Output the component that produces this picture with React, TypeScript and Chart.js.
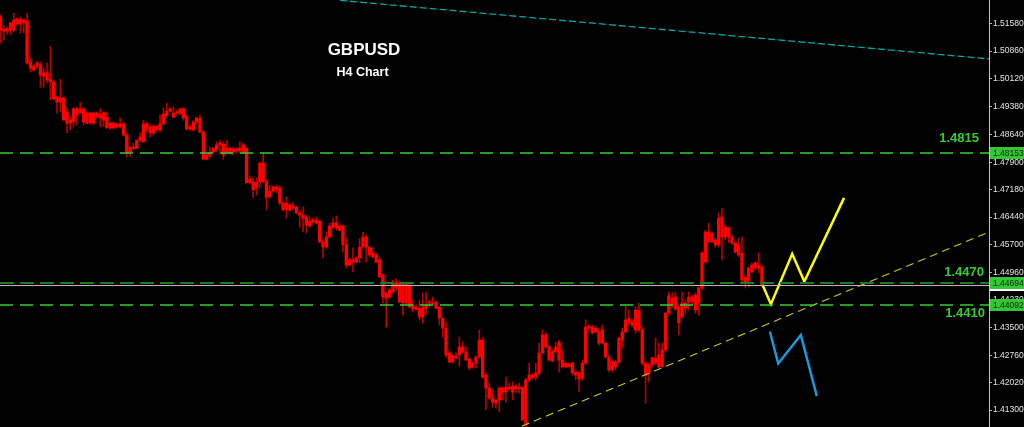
import React, { useEffect, useRef } from 'react';
import { Chart, registerables } from 'chart.js';

Chart.register(...registerables);

// ---- H4 candles (GBPUSD) ----
const opens = [
  1.5177, 1.5145, 1.5139, 1.5142, 1.5142, 1.5171, 1.5158, 1.5169, 1.5166, 1.5057,
  1.5035, 1.5046, 1.5049, 1.5019, 1.5028, 1.5011, 1.5004, 1.4964, 1.4950, 1.4961,
  1.4924, 1.4894, 1.4897, 1.4932, 1.4921, 1.4932, 1.4894, 1.4921, 1.4894, 1.4921,
  1.4908, 1.4921, 1.4910, 1.4881, 1.4894, 1.4884, 1.4892, 1.4892, 1.4862, 1.4817,
  1.4830, 1.4827, 1.4849, 1.4844, 1.4892, 1.4884, 1.4868, 1.4886, 1.4876, 1.4892,
  1.4916, 1.4926, 1.4921, 1.4921, 1.4921, 1.4932, 1.4910, 1.4878, 1.4876, 1.4897,
  1.4905, 1.4870, 1.4798, 1.4806, 1.4817, 1.4825, 1.4836, 1.4838, 1.4817, 1.4827,
  1.4817, 1.4825, 1.4820, 1.4836, 1.4827, 1.4735, 1.4737, 1.4722, 1.4737, 1.4788,
  1.4737, 1.4697, 1.4713, 1.4724, 1.4722, 1.4681, 1.4663, 1.4676, 1.4668, 1.4671,
  1.4655, 1.4649, 1.4644, 1.4620, 1.4631, 1.4636, 1.4633, 1.4578, 1.4564, 1.4591,
  1.4615, 1.4628, 1.4620, 1.4620, 1.4570, 1.4516, 1.4530, 1.4524, 1.4535, 1.4564,
  1.4591, 1.4564, 1.4548, 1.4543, 1.4530, 1.4490, 1.4428, 1.4431, 1.4444, 1.4471,
  1.4468, 1.4415, 1.4468, 1.4463, 1.4399, 1.4404, 1.4401, 1.4378, 1.4401, 1.4418,
  1.4415, 1.4418, 1.4404, 1.4375, 1.4348, 1.4282, 1.4258, 1.4274, 1.4277, 1.4298,
  1.4285, 1.4266, 1.4245, 1.4255, 1.4271, 1.4316, 1.4223, 1.4189, 1.4162, 1.4148,
  1.4157, 1.4189, 1.4178, 1.4191, 1.4178, 1.4194, 1.4186, 1.4189, 1.4090, 1.4210,
  1.4223, 1.4218, 1.4229, 1.4282, 1.4330, 1.4298, 1.4261, 1.4285, 1.4311, 1.4263,
  1.4245, 1.4253, 1.4255, 1.4231, 1.4229, 1.4215, 1.4255, 1.4348, 1.4351, 1.4338,
  1.4340, 1.4308, 1.4308, 1.4271, 1.4237, 1.4258, 1.4258, 1.4316, 1.4338, 1.4375,
  1.4364, 1.4343, 1.4396, 1.4343, 1.4255, 1.4229, 1.4250, 1.4269, 1.4245, 1.4245,
  1.4290, 1.4388, 1.4428, 1.4399, 1.4404, 1.4378, 1.4415, 1.4418, 1.4431, 1.4396,
  1.4415, 1.4455, 1.4524, 1.4604, 1.4578, 1.4583, 1.4570, 1.4644, 1.4591, 1.4615,
  1.4591, 1.4575, 1.4570, 1.4548, 1.4471, 1.4476, 1.4498, 1.4508, 1.4516, 1.4511,
];

const highs = [
  1.5182, 1.5155, 1.5150, 1.5161, 1.5187, 1.5174, 1.5177, 1.5171, 1.5187, 1.5067,
  1.5051, 1.5059, 1.5057, 1.5041, 1.5054, 1.5099, 1.5009, 1.4966, 1.5011, 1.4964,
  1.4937, 1.4908, 1.4935, 1.4937, 1.4950, 1.4935, 1.4924, 1.4924, 1.4924, 1.4924,
  1.4932, 1.4924, 1.4924, 1.4897, 1.4897, 1.4894, 1.4908, 1.4897, 1.4868, 1.4830,
  1.4841, 1.4849, 1.4868, 1.4902, 1.4897, 1.4889, 1.4889, 1.4889, 1.4916, 1.4935,
  1.4948, 1.4935, 1.4937, 1.4929, 1.4935, 1.4935, 1.4916, 1.4889, 1.4902, 1.4910,
  1.4916, 1.4876, 1.4814, 1.4830, 1.4830, 1.4844, 1.4849, 1.4844, 1.4849, 1.4830,
  1.4830, 1.4830, 1.4844, 1.4841, 1.4830, 1.4751, 1.4751, 1.4748, 1.4788, 1.4814,
  1.4743, 1.4729, 1.4727, 1.4729, 1.4727, 1.4684, 1.4697, 1.4681, 1.4684, 1.4673,
  1.4663, 1.4671, 1.4649, 1.4644, 1.4641, 1.4644, 1.4636, 1.4583, 1.4604, 1.4628,
  1.4641, 1.4647, 1.4628, 1.4623, 1.4588, 1.4535, 1.4562, 1.4538, 1.4586, 1.4604,
  1.4596, 1.4564, 1.4562, 1.4548, 1.4538, 1.4490, 1.4442, 1.4455, 1.4476, 1.4479,
  1.4474, 1.4471, 1.4471, 1.4463, 1.4423, 1.4410, 1.4423, 1.4442, 1.4444, 1.4423,
  1.4431, 1.4418, 1.4404, 1.4375, 1.4364, 1.4290, 1.4277, 1.4282, 1.4324, 1.4311,
  1.4298, 1.4269, 1.4258, 1.4274, 1.4343, 1.4324, 1.4229, 1.4202, 1.4183, 1.4159,
  1.4189, 1.4191, 1.4218, 1.4202, 1.4205, 1.4197, 1.4202, 1.4191, 1.4215, 1.4255,
  1.4229, 1.4255, 1.4308, 1.4343, 1.4338, 1.4303, 1.4290, 1.4311, 1.4316, 1.4290,
  1.4258, 1.4255, 1.4258, 1.4237, 1.4231, 1.4263, 1.4370, 1.4356, 1.4356, 1.4354,
  1.4348, 1.4356, 1.4311, 1.4277, 1.4263, 1.4263, 1.4324, 1.4348, 1.4410, 1.4396,
  1.4370, 1.4404, 1.4415, 1.4351, 1.4258, 1.4255, 1.4271, 1.4322, 1.4308, 1.4308,
  1.4391, 1.4444, 1.4442, 1.4444, 1.4410, 1.4444, 1.4423, 1.4444, 1.4436, 1.4442,
  1.4458, 1.4551, 1.4609, 1.4628, 1.4604, 1.4588, 1.4655, 1.4668, 1.4623, 1.4617,
  1.4596, 1.4578, 1.4588, 1.4591, 1.4490, 1.4511, 1.4522, 1.4524, 1.4548, 1.4516,
];

const lows = [
  1.5107, 1.5115, 1.5131, 1.5129, 1.5137, 1.5155, 1.5134, 1.5134, 1.5051, 1.5030,
  1.5033, 1.5041, 1.4990, 1.4990, 1.5001, 1.4956, 1.4956, 1.4921, 1.4924, 1.4902,
  1.4868, 1.4876, 1.4884, 1.4889, 1.4921, 1.4889, 1.4892, 1.4892, 1.4889, 1.4908,
  1.4884, 1.4884, 1.4881, 1.4878, 1.4878, 1.4881, 1.4881, 1.4862, 1.4804, 1.4806,
  1.4822, 1.4827, 1.4844, 1.4844, 1.4870, 1.4857, 1.4862, 1.4873, 1.4870, 1.4889,
  1.4910, 1.4924, 1.4908, 1.4916, 1.4916, 1.4902, 1.4876, 1.4876, 1.4873, 1.4894,
  1.4868, 1.4796, 1.4796, 1.4804, 1.4814, 1.4817, 1.4817, 1.4798, 1.4814, 1.4812,
  1.4809, 1.4814, 1.4814, 1.4814, 1.4735, 1.4732, 1.4695, 1.4703, 1.4722, 1.4737,
  1.4663, 1.4697, 1.4711, 1.4708, 1.4676, 1.4660, 1.4641, 1.4657, 1.4663, 1.4652,
  1.4617, 1.4604, 1.4601, 1.4617, 1.4625, 1.4625, 1.4575, 1.4535, 1.4559, 1.4588,
  1.4615, 1.4609, 1.4607, 1.4551, 1.4508, 1.4516, 1.4498, 1.4522, 1.4522, 1.4562,
  1.4524, 1.4538, 1.4535, 1.4522, 1.4484, 1.4415, 1.4351, 1.4428, 1.4442, 1.4450,
  1.4415, 1.4383, 1.4412, 1.4404, 1.4391, 1.4396, 1.4370, 1.4362, 1.4383, 1.4404,
  1.4410, 1.4399, 1.4356, 1.4324, 1.4269, 1.4255, 1.4255, 1.4266, 1.4247, 1.4282,
  1.4263, 1.4237, 1.4242, 1.4242, 1.4269, 1.4215, 1.4130, 1.4157, 1.4138, 1.4135,
  1.4125, 1.4157, 1.4151, 1.4183, 1.4157, 1.4175, 1.4175, 1.4103, 1.4085, 1.4205,
  1.4213, 1.4210, 1.4223, 1.4282, 1.4295, 1.4261, 1.4258, 1.4282, 1.4231, 1.4242,
  1.4242, 1.4245, 1.4223, 1.4210, 1.4178, 1.4210, 1.4250, 1.4343, 1.4332, 1.4335,
  1.4303, 1.4308, 1.4269, 1.4231, 1.4231, 1.4237, 1.4255, 1.4295, 1.4335, 1.4356,
  1.4351, 1.4335, 1.4338, 1.4250, 1.4148, 1.4205, 1.4245, 1.4250, 1.4242, 1.4245,
  1.4285, 1.4383, 1.4404, 1.4396, 1.4330, 1.4375, 1.4388, 1.4396, 1.4410, 1.4388,
  1.4383, 1.4450, 1.4522, 1.4578, 1.4575, 1.4564, 1.4564, 1.4530, 1.4583, 1.4575,
  1.4570, 1.4548, 1.4538, 1.4471, 1.4455, 1.4458, 1.4495, 1.4503, 1.4495, 1.4458,
];

const closes = [
  1.5142, 1.5139, 1.5145, 1.5161, 1.5169, 1.5158, 1.5171, 1.5161, 1.5054, 1.5041,
  1.5046, 1.5054, 1.5022, 1.5028, 1.5009, 1.5004, 1.4958, 1.4950, 1.4961, 1.4902,
  1.4894, 1.4902, 1.4932, 1.4916, 1.4932, 1.4897, 1.4921, 1.4894, 1.4921, 1.4910,
  1.4918, 1.4902, 1.4881, 1.4894, 1.4881, 1.4892, 1.4884, 1.4862, 1.4814, 1.4830,
  1.4827, 1.4849, 1.4857, 1.4892, 1.4881, 1.4868, 1.4886, 1.4876, 1.4892, 1.4918,
  1.4926, 1.4932, 1.4910, 1.4924, 1.4932, 1.4908, 1.4878, 1.4884, 1.4897, 1.4908,
  1.4870, 1.4798, 1.4809, 1.4817, 1.4827, 1.4836, 1.4841, 1.4809, 1.4827, 1.4814,
  1.4825, 1.4820, 1.4827, 1.4817, 1.4735, 1.4745, 1.4716, 1.4737, 1.4788, 1.4737,
  1.4697, 1.4713, 1.4724, 1.4719, 1.4681, 1.4663, 1.4681, 1.4663, 1.4673, 1.4655,
  1.4649, 1.4641, 1.4623, 1.4633, 1.4636, 1.4628, 1.4578, 1.4564, 1.4591, 1.4620,
  1.4628, 1.4615, 1.4609, 1.4570, 1.4516, 1.4530, 1.4524, 1.4535, 1.4564, 1.4591,
  1.4564, 1.4543, 1.4538, 1.4524, 1.4484, 1.4431, 1.4442, 1.4450, 1.4468, 1.4455,
  1.4418, 1.4468, 1.4415, 1.4404, 1.4410, 1.4399, 1.4378, 1.4404, 1.4410, 1.4415,
  1.4412, 1.4401, 1.4375, 1.4348, 1.4277, 1.4258, 1.4274, 1.4269, 1.4298, 1.4285,
  1.4263, 1.4242, 1.4255, 1.4271, 1.4316, 1.4218, 1.4189, 1.4162, 1.4151, 1.4157,
  1.4189, 1.4178, 1.4191, 1.4186, 1.4194, 1.4186, 1.4191, 1.4103, 1.4210, 1.4223,
  1.4215, 1.4229, 1.4282, 1.4330, 1.4298, 1.4263, 1.4285, 1.4298, 1.4263, 1.4245,
  1.4255, 1.4245, 1.4229, 1.4223, 1.4213, 1.4255, 1.4351, 1.4354, 1.4335, 1.4348,
  1.4308, 1.4343, 1.4271, 1.4237, 1.4258, 1.4245, 1.4322, 1.4338, 1.4370, 1.4362,
  1.4356, 1.4396, 1.4343, 1.4255, 1.4223, 1.4250, 1.4269, 1.4255, 1.4277, 1.4290,
  1.4388, 1.4434, 1.4410, 1.4431, 1.4362, 1.4415, 1.4401, 1.4431, 1.4418, 1.4436,
  1.4455, 1.4548, 1.4604, 1.4578, 1.4601, 1.4570, 1.4641, 1.4591, 1.4617, 1.4591,
  1.4575, 1.4551, 1.4543, 1.4476, 1.4484, 1.4508, 1.4516, 1.4522, 1.4508, 1.4463,
];

// ---- axis ----
const yTickValues = [
  1.5158, 1.5086, 1.5012, 1.4938, 1.4864, 1.479, 1.4718, 1.4644,
  1.457, 1.4496, 1.4423, 1.435, 1.4276, 1.4202, 1.413,
];
const yMin = 1.40848;
const yMax = 1.52219;
const xMin = -0.15;
const xMax = 297.29;

// ---- horizontal levels ----
const levelValues = [1.48153, 1.44694, 1.44092];
const levelTexts = ['1.4815', '1.4470', '1.4410'];
const bidValue = 1.44622;

// ---- drawn lines (bar index, price) ----
const channelX = [102.1, 297.3];
const channelY = [1.5221, 1.5065];
const trendX = [156.8, 297.3];
const trendY = [1.4087, 1.4604];
const bullX = [229.2, 231.7, 238.1, 241.75, 253.7];
const bullY = [1.4463, 1.4412, 1.4546, 1.4472, 1.4695];
const bearX = [231.4, 233.9, 240.7, 245.5];
const bearY = [1.4339, 1.4254, 1.433, 1.4167];

const FONT = '"Liberation Sans", Arial, sans-serif';

const zip = (xs: number[], ys: number[]) => xs.map((x, i) => ({ x, y: ys[i] }));

const overlayPlugin = {
  id: 'overlay',
  beforeDraw(chart: any) {
    const ctx = chart.ctx;
    ctx.save();
    ctx.fillStyle = '#000000';
    ctx.fillRect(0, 0, chart.width, chart.height);
    ctx.restore();
  },
  afterDatasetsDraw(chart: any) {
    const { ctx, chartArea } = chart;
    const ys = chart.scales.y;
    const styles = [
      { color: '#30d030', width: 1.4, dash: [13, 7] },
      { color: '#1e7a1e', width: 2, dash: [14, 6] },
      { color: '#30d030', width: 1.4, dash: [13, 7] },
    ];
    ctx.save();
    // bid line
    const by = Math.round(ys.getPixelForValue(bidValue)) + 0.5;
    ctx.strokeStyle = '#b9b9b9';
    ctx.lineWidth = 1;
    ctx.setLineDash([]);
    ctx.beginPath();
    ctx.moveTo(chartArea.left, by);
    ctx.lineTo(chartArea.right, by);
    ctx.stroke();
    levelValues.forEach((v, i) => {
      const s = styles[i];
      const y = Math.round(ys.getPixelForValue(v));
      ctx.strokeStyle = s.color;
      ctx.lineWidth = s.width;
      ctx.setLineDash(s.dash);
      ctx.beginPath();
      ctx.moveTo(chartArea.left, y);
      ctx.lineTo(chartArea.right, y);
      ctx.stroke();
    });
    ctx.restore();
  },
  afterDraw(chart: any) {
    const { ctx, chartArea } = chart;
    const ys = chart.scales.y;
    ctx.save();
    // titles
    ctx.fillStyle = '#ffffff';
    ctx.textAlign = 'center';
    ctx.textBaseline = 'middle';
    ctx.font = `bold 17px ${FONT}`;
    ctx.fillText('GBPUSD', 364, 50);
    ctx.font = `bold 12.5px ${FONT}`;
    ctx.fillText('H4 Chart', 362.5, 73);

    // level texts
    ctx.fillStyle = '#32cd32';
    ctx.textAlign = 'right';
    ctx.font = `bold 13px ${FONT}`;
    const offs = [-14, -10.5, 8.5];
    const rights = [979, 984, 985];
    levelValues.forEach((v, i) => {
      const y = ys.getPixelForValue(v);
      ctx.fillText(levelTexts[i], rights[i], y + offs[i]);
    });

    // axis price boxes
    const bx = chartArea.right + 1;
    const bw = chart.width - bx;
    ctx.textAlign = 'left';
    ctx.font = `8.5px ${FONT}`;
    const box = (v: number, bg: string, fg: string, txt: string) => {
      const y = Math.round(ys.getPixelForValue(v));
      ctx.fillStyle = bg;
      ctx.fillRect(bx, y - 6, bw, 12);
      ctx.fillStyle = fg;
      ctx.fillText(txt, bx + 3, y + 0.5);
    };
    box(bidValue, '#ffffff', '#000000', bidValue.toFixed(5));
    box(levelValues[0], '#34c634', '#062806', levelValues[0].toFixed(5));
    box(levelValues[1], '#34c634', '#062806', levelValues[1].toFixed(5));
    box(levelValues[2], '#34c634', '#062806', levelValues[2].toFixed(5));
    ctx.restore();
  },
};

export default function App() {
  const ref = useRef<HTMLCanvasElement | null>(null);

  useEffect(() => {
    document.body.style.margin = '0';
    document.body.style.background = '#000';
    const canvas = ref.current;
    if (!canvas) return;
    const idx = opens.map((_, i) => i);
    const wickData = idx.map((i) => ({ x: i, y: [lows[i], highs[i]] }));
    const bodyData = idx.map((i) => ({ x: i, y: [opens[i], closes[i]] }));

    const lineDs = (data: any[], color: string, width: number, dash: number[]) => ({
      type: 'line' as const,
      data,
      borderColor: color,
      borderWidth: width,
      borderDash: dash,
      pointRadius: 0,
      fill: false,
      tension: 0,
      order: 0,
    });

    const chart = new Chart(canvas, {
      type: 'bar',
      data: {
        datasets: [
          lineDs(zip(bullX, bullY), '#ffff00', 2.5, []) as any,
          lineDs(zip(bearX, bearY), '#1e96dc', 2.5, []) as any,
          lineDs(zip(trendX, trendY), '#cccc00', 1.1, [8, 5]) as any,
          lineDs(zip(channelX, channelY), '#00a8a8', 1.3, [7, 3]) as any,
          {
            type: 'bar',
            data: bodyData as any,
            backgroundColor: '#ff0000',
            borderWidth: 0,
            barThickness: 2.7,
            minBarLength: 1,
            grouped: false,
            order: 1,
          } as any,
          {
            type: 'bar',
            data: wickData as any,
            backgroundColor: '#b80000',
            borderWidth: 0,
            barThickness: 1,
            grouped: false,
            order: 2,
          } as any,
        ],
      },
      options: {
        animation: false,
        responsive: false,
        events: [],
        layout: { padding: 0 },
        plugins: {
          legend: { display: false },
          tooltip: { enabled: false },
          title: { display: false },
        },
        scales: {
          x: {
            type: 'linear',
            min: xMin,
            max: xMax,
            offset: false,
            display: false,
          },
          y: {
            type: 'linear',
            position: 'right',
            min: yMin,
            max: yMax,
            border: { display: true, color: '#c8c8c8', width: 1 },
            grid: {
              drawOnChartArea: false,
              drawTicks: true,
              tickLength: 3,
              color: '#b0b0b0',
            },
            ticks: {
              color: '#e6e6e6',
              padding: 1,
              font: { family: 'Liberation Sans', size: 8.5 },
              callback: (v: any) => Number(v).toFixed(5),
            },
            afterBuildTicks: (s: any) => {
              s.ticks = yTickValues.map((v) => ({ value: v }));
            },
            afterFit: (s: any) => {
              s.width = 35;
              s.paddingTop = 0;
              s.paddingBottom = 0;
            },
          },
        },
      } as any,
      plugins: [overlayPlugin],
    });
    return () => chart.destroy();
  }, []);

  return (
    <div style={{ position: 'fixed', left: 0, top: 0, width: 1024, height: 427, background: '#000' }}>
      <canvas ref={ref} width={1024} height={427} style={{ display: 'block' }} />
    </div>
  );
}
